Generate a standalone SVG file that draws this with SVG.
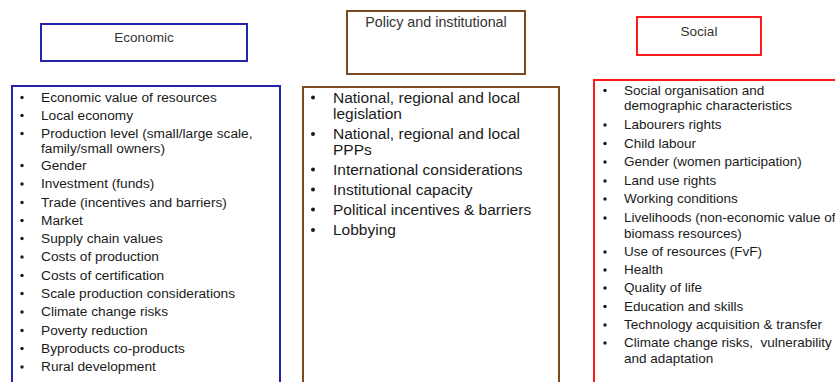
<svg xmlns="http://www.w3.org/2000/svg" width="835" height="382" viewBox="0 0 835 382">
  <style>
    .hdr { fill: #ffffff; stroke-width: 2; }
    .lst { fill: #ffffff; stroke-width: 2; }
    .eco { stroke: #2424a8; }
    .pol { stroke: #7b4a1e; }
    .soc { stroke: #ff1a1a; }
    .title { font-family: "Liberation Sans", Arial, sans-serif; font-size: 13.5px; fill: #333333; text-anchor: middle; }
    .item { font-family: "Liberation Sans", Arial, sans-serif; fill: #1a1a1a; }
    .e { font-size: 13.7px; }
    .p { font-size: 15.5px; }
    .s { font-size: 13.5px; }
    .dot { fill: #1a1a1a; }
    .pre { white-space: pre; }
  </style>

  <!-- Economic -->
  <g id="economic-header">
    <rect class="hdr eco" x="41" y="24" width="206" height="37"/>
    <text class="title" x="144" y="42">Economic</text>
  </g>
  <g id="economic-list">
    <path class="lst eco" d="M12,390 V86 H280 V390"/>
    <g class="dot">
      <circle cx="22" cy="97.5" r="1.7"/>
      <circle cx="22" cy="115.5" r="1.7"/>
      <circle cx="22" cy="133.5" r="1.7"/>
      <circle cx="22" cy="165.5" r="1.7"/>
      <circle cx="22" cy="184" r="1.7"/>
      <circle cx="22" cy="202.5" r="1.7"/>
      <circle cx="22" cy="220.5" r="1.7"/>
      <circle cx="22" cy="238.5" r="1.7"/>
      <circle cx="22" cy="257" r="1.7"/>
      <circle cx="22" cy="275.5" r="1.7"/>
      <circle cx="22" cy="293.5" r="1.7"/>
      <circle cx="22" cy="312" r="1.7"/>
      <circle cx="22" cy="330.5" r="1.7"/>
      <circle cx="22" cy="348.5" r="1.7"/>
      <circle cx="22" cy="367" r="1.7"/>
    </g>
    <g class="item e">
      <text x="41" y="101.5">Economic value of resources</text>
      <text x="41" y="119.5">Local economy</text>
      <text x="41" y="137.5">Production level (small/large scale,</text>
      <text x="41" y="152.5">family/small owners)</text>
      <text x="41" y="169.5">Gender</text>
      <text x="41" y="188">Investment (funds)</text>
      <text x="41" y="206.5">Trade (incentives and barriers)</text>
      <text x="41" y="224.5">Market</text>
      <text x="41" y="242.5">Supply chain values</text>
      <text x="41" y="261">Costs of production</text>
      <text x="41" y="279.5">Costs of certification</text>
      <text x="41" y="297.5">Scale production considerations</text>
      <text x="41" y="316">Climate change risks</text>
      <text x="41" y="334.5">Poverty reduction</text>
      <text x="41" y="352.5">Byproducts co-products</text>
      <text x="41" y="371">Rural development</text>
    </g>
  </g>

  <!-- Policy and institutional -->
  <g id="policy-header">
    <rect class="hdr pol" x="347" y="11" width="178" height="63"/>
    <text class="title" x="436" y="27" style="font-size:14.3px">Policy and institutional</text>
  </g>
  <g id="policy-list">
    <path class="lst pol" d="M303,390 V87 H559 V390"/>
    <g class="dot">
      <circle cx="313" cy="97.5" r="2"/>
      <circle cx="313" cy="134" r="2"/>
      <circle cx="313" cy="169.5" r="2"/>
      <circle cx="313" cy="189.5" r="2"/>
      <circle cx="313" cy="209.5" r="2"/>
      <circle cx="313" cy="230" r="2"/>
    </g>
    <g class="item p">
      <text x="333" y="102.5">National, regional and local</text>
      <text x="333" y="118.5">legislation</text>
      <text x="333" y="139">National, regional and local</text>
      <text x="333" y="155">PPPs</text>
      <text x="333" y="174.5">International considerations</text>
      <text x="333" y="194.5">Institutional capacity</text>
      <text x="333" y="214.5">Political incentives &amp; barriers</text>
      <text x="333" y="235">Lobbying</text>
    </g>
  </g>

  <!-- Social -->
  <g id="social-header">
    <rect class="hdr soc" x="637" y="17" width="124" height="38"/>
    <text class="title" x="699" y="36">Social</text>
  </g>
  <g id="social-list">
    <path class="lst soc" d="M594,390 V80 H845"/>
    <g class="dot">
      <circle cx="605" cy="90.5" r="1.7"/>
      <circle cx="605" cy="125" r="1.7"/>
      <circle cx="605" cy="143.5" r="1.7"/>
      <circle cx="605" cy="162" r="1.7"/>
      <circle cx="605" cy="181" r="1.7"/>
      <circle cx="605" cy="199" r="1.7"/>
      <circle cx="605" cy="218" r="1.7"/>
      <circle cx="605" cy="252" r="1.7"/>
      <circle cx="605" cy="270" r="1.7"/>
      <circle cx="605" cy="288" r="1.7"/>
      <circle cx="605" cy="306.5" r="1.7"/>
      <circle cx="605" cy="325" r="1.7"/>
      <circle cx="605" cy="343" r="1.7"/>
    </g>
    <g class="item s">
      <text x="624" y="94.5">Social organisation and</text>
      <text x="624" y="109.5">demographic characteristics</text>
      <text x="624" y="129">Labourers rights</text>
      <text x="624" y="147.5">Child labour</text>
      <text x="624" y="166">Gender (women participation)</text>
      <text x="624" y="185">Land use rights</text>
      <text x="624" y="203">Working conditions</text>
      <text x="624" y="222">Livelihoods (non-economic value of</text>
      <text x="624" y="237.5">biomass resources)</text>
      <text x="624" y="256">Use of resources (FvF)</text>
      <text x="624" y="274">Health</text>
      <text x="624" y="292">Quality of life</text>
      <text x="624" y="310.5">Education and skills</text>
      <text x="624" y="329">Technology acquisition &amp; transfer</text>
      <text class="pre" x="624" y="347">Climate change risks,  vulnerability</text>
      <text x="624" y="363">and adaptation</text>
    </g>
  </g>
</svg>
